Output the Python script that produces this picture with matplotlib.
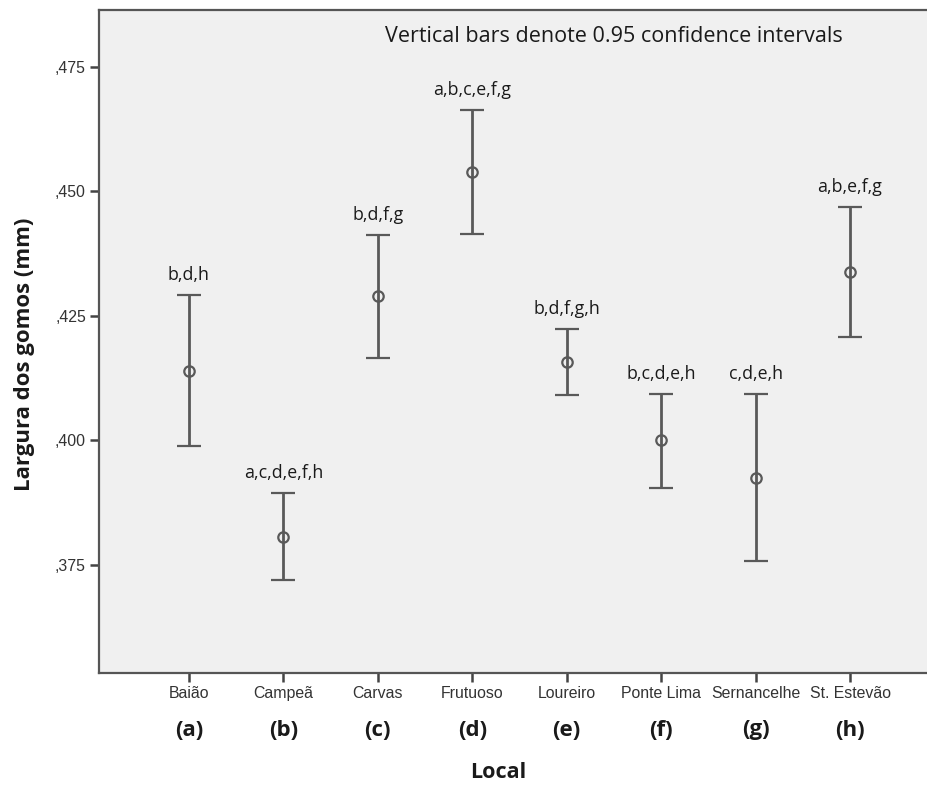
import numpy as np
import matplotlib
matplotlib.use('Agg')
import matplotlib.pyplot as plt
from matplotlib.ticker import FixedLocator, FuncFormatter
import matplotlib.transforms as mtransforms

# group means and 95% CI limits (mm)
locais = ['Baião', 'Campeã', 'Carvas', 'Frutuoso', 'Loureiro',
          'Ponte Lima', 'Sernancelhe', 'St. Estevão']
letras = ['(a)', '(b)', '(c)', '(d)', '(e)', '(f)', '(g)', '(h)']
media = [0.4140, 0.3807, 0.4289, 0.4539, 0.4158, 0.4000, 0.3925, 0.4339]
ic_sup = [0.4291, 0.3894, 0.4413, 0.4663, 0.4224, 0.4093, 0.4093, 0.4469]
ic_inf = [0.3988, 0.3720, 0.4166, 0.4415, 0.4091, 0.3905, 0.3757, 0.4208]
grupos = ['b,d,h', 'a,c,d,e,f,h', 'b,d,f,g', 'a,b,c,e,f,g',
          'b,d,f,g,h', 'b,c,d,e,h', 'c,d,e,h', 'a,b,e,f,g']
yticks = [0.375, 0.400, 0.425, 0.450, 0.475]

W, H = 928, 785
fig = plt.figure(figsize=(W / 100.0, H / 100.0), dpi=100, facecolor='white')
# frame runs past the right border of the figure
x0, x1, y0, y1 = 99, 940, 10, 673
ax = fig.add_axes([x0 / W, 1 - y1 / H, (x1 - x0) / W, (y1 - y0) / H])
ax.set_facecolor('#f0f0f0')

x = np.arange(len(locais))
m = np.array(media)
err = [m - np.array(ic_inf), np.array(ic_sup) - m]
ax.errorbar(x, m, yerr=err, fmt='o', color='#595959', ecolor='#595959',
            elinewidth=2.0, capsize=8.5, capthick=2.0, markersize=7.5,
            markerfacecolor='none', markeredgewidth=1.6, markeredgecolor='#595959')

for i in range(len(locais)):
    ax.annotate(grupos[i], xy=(x[i], ic_sup[i]), xytext=(0, 10.8),
                textcoords='offset points', ha='center', va='baseline',
                fontsize=12.8, family='Open Sans', color='#1a1a1a')

ax.text((614 - x0) / (x1 - x0), (y1 - 37) / (y1 - y0),
        'Vertical bars denote 0.95 confidence intervals',
        transform=ax.transAxes, ha='center', va='center',
        fontsize=15.5, family='Open Sans', color='#1a1a1a')

ax.set_xlim(-0.953, 7.953)
ax.set_ylim(0.3533, 0.4864)
ax.yaxis.set_major_locator(FixedLocator(yticks))
ax.yaxis.set_major_formatter(FuncFormatter(lambda v, p: ('%.3f' % v)[1:].replace('.', ',')))
ax.set_xticks(x)
ax.set_xticklabels(locais)
ax.tick_params(axis='both', direction='out', length=6.5, width=1.8, color='#444444',
               labelsize=11.4, labelcolor='#333333', pad=3)
for lab in ax.get_xticklabels() + ax.get_yticklabels():
    lab.set_family('Liberation Sans')

for s in ['left', 'top', 'bottom', 'right']:
    ax.spines[s].set_color('#555555')
    ax.spines[s].set_linewidth(1.6)

trans = mtransforms.blended_transform_factory(ax.transData, ax.transAxes)
for i in range(len(letras)):
    ax.text(x[i], (y1 - 730) / (y1 - y0), letras[i], transform=trans,
            ha='center', va='center', fontsize=16, fontweight='bold',
            family='Open Sans', color='#1a1a1a')

fig.text(498 / W, 1 - 773 / H, 'Local', ha='center', va='center',
         fontsize=15.5, fontweight='bold', family='Open Sans', color='#1a1a1a')
fig.text(25 / W, 1 - 354 / H, 'Largura dos gomos (mm)', ha='center', va='center',
         rotation=90, fontsize=16, fontweight='bold', family='Open Sans', color='#1a1a1a')

fig.savefig('out.png', dpi=100, facecolor='white')
